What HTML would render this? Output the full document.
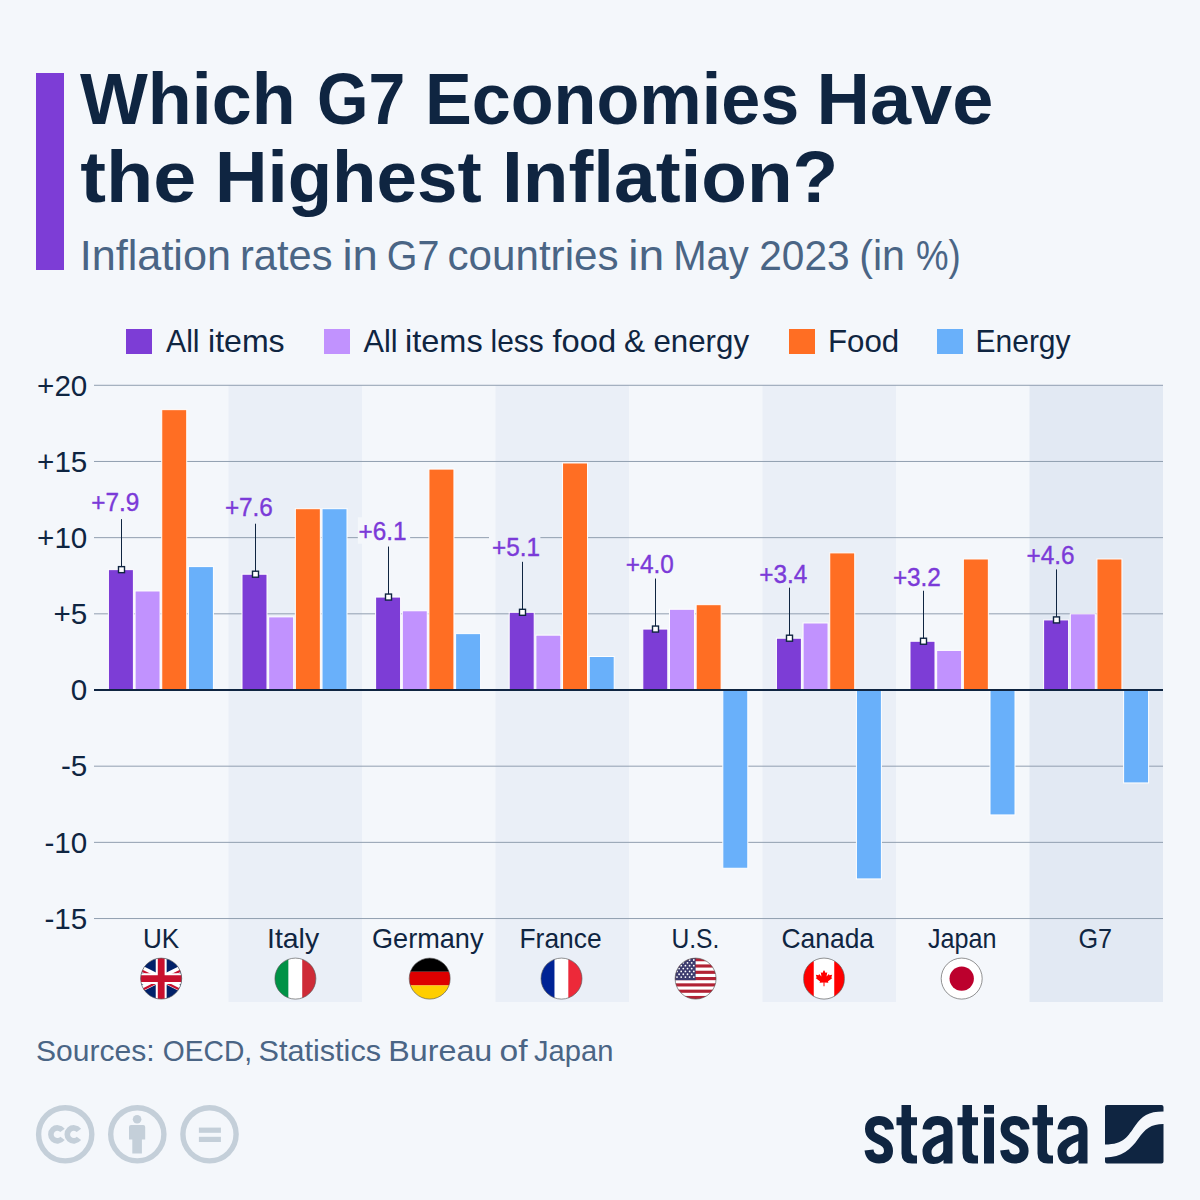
<!DOCTYPE html>
<html><head><meta charset="utf-8"><title>Which G7 Economies Have the Highest Inflation?</title>
<style>
html,body{margin:0;padding:0;background:#f4f7fb;}
body{width:1200px;height:1200px;overflow:hidden;position:relative;}
svg{position:absolute;left:0;top:0;display:block;}
text{font-family:'Liberation Sans', sans-serif;}
</style></head><body>
<svg width="1200" height="1200" viewBox="0 0 1200 1200">
<rect x="0" y="0" width="1200" height="1200" fill="#f4f7fb"/>

<rect x="36" y="73" width="28" height="197" fill="#7d3dd6"/>
<text x="80.00" y="124" font-size="72.5" font-weight="700" fill="#0f2541" textLength="215.59" lengthAdjust="spacingAndGlyphs" >Which</text>
<text x="317.00" y="124" font-size="72.5" font-weight="700" fill="#0f2541" textLength="88.35" lengthAdjust="spacingAndGlyphs" >G7</text>
<text x="425.00" y="124" font-size="72.5" font-weight="700" fill="#0f2541" textLength="374.16" lengthAdjust="spacingAndGlyphs" >Economies</text>
<text x="816.50" y="124" font-size="72.5" font-weight="700" fill="#0f2541" textLength="176.84" lengthAdjust="spacingAndGlyphs" >Have</text>
<text x="80.25" y="202" font-size="72.5" font-weight="700" fill="#0f2541" textLength="116.09" lengthAdjust="spacingAndGlyphs" >the</text>
<text x="215.00" y="202" font-size="72.5" font-weight="700" fill="#0f2541" textLength="266.63" lengthAdjust="spacingAndGlyphs" >Highest</text>
<text x="502.00" y="202" font-size="72.5" font-weight="700" fill="#0f2541" textLength="336.25" lengthAdjust="spacingAndGlyphs" >Inflation?</text>
<text x="79.75" y="269.7" font-size="42" font-weight="400" fill="#4a6585" textLength="151.26" lengthAdjust="spacingAndGlyphs" >Inflation</text>
<text x="240.00" y="269.7" font-size="42" font-weight="400" fill="#4a6585" textLength="92.46" lengthAdjust="spacingAndGlyphs" >rates</text>
<text x="342.50" y="269.7" font-size="42" font-weight="400" fill="#4a6585" textLength="35.42" lengthAdjust="spacingAndGlyphs" >in</text>
<text x="386.75" y="269.7" font-size="42" font-weight="400" fill="#4a6585" textLength="52.61" lengthAdjust="spacingAndGlyphs" >G7</text>
<text x="447.50" y="269.7" font-size="42" font-weight="400" fill="#4a6585" textLength="171.05" lengthAdjust="spacingAndGlyphs" >countries</text>
<text x="628.25" y="269.7" font-size="42" font-weight="400" fill="#4a6585" textLength="36.00" lengthAdjust="spacingAndGlyphs" >in</text>
<text x="673.25" y="269.7" font-size="42" font-weight="400" fill="#4a6585" textLength="75.61" lengthAdjust="spacingAndGlyphs" >May</text>
<text x="759.25" y="269.7" font-size="42" font-weight="400" fill="#4a6585" textLength="90.42" lengthAdjust="spacingAndGlyphs" >2023</text>
<text x="859.25" y="269.7" font-size="42" font-weight="400" fill="#4a6585" textLength="45.71" lengthAdjust="spacingAndGlyphs" >(in</text>
<text x="916.00" y="269.7" font-size="42" font-weight="400" fill="#4a6585" textLength="44.79" lengthAdjust="spacingAndGlyphs" >%)</text>
<rect x="126" y="329" width="26" height="25" fill="#7d3dd6"/>
<rect x="324" y="329" width="26" height="25" fill="#c192fe"/>
<rect x="789" y="329" width="26" height="25" fill="#ff6e23"/>
<rect x="937" y="329" width="26" height="25" fill="#69b0fa"/>
<text x="166.00" y="352" font-size="30.5" font-weight="400" fill="#0f2541" textLength="33.60" lengthAdjust="spacingAndGlyphs" >All</text>
<text x="208.00" y="352" font-size="30.5" font-weight="400" fill="#0f2541" textLength="76.66" lengthAdjust="spacingAndGlyphs" >items</text>
<text x="363.50" y="352" font-size="30.5" font-weight="400" fill="#0f2541" textLength="34.15" lengthAdjust="spacingAndGlyphs" >All</text>
<text x="405.00" y="352" font-size="30.5" font-weight="400" fill="#0f2541" textLength="77.65" lengthAdjust="spacingAndGlyphs" >items</text>
<text x="490.50" y="352" font-size="30.5" font-weight="400" fill="#0f2541" textLength="53.17" lengthAdjust="spacingAndGlyphs" >less</text>
<text x="552.50" y="352" font-size="30.5" font-weight="400" fill="#0f2541" textLength="63.59" lengthAdjust="spacingAndGlyphs" >food</text>
<text x="624.00" y="352" font-size="30.5" font-weight="400" fill="#0f2541" textLength="21.05" lengthAdjust="spacingAndGlyphs" >&amp;</text>
<text x="653.50" y="352" font-size="30.5" font-weight="400" fill="#0f2541" textLength="95.53" lengthAdjust="spacingAndGlyphs" >energy</text>
<text x="828.00" y="352" font-size="30.5" font-weight="400" fill="#0f2541" textLength="71.25" lengthAdjust="spacingAndGlyphs" >Food</text>
<text x="975.50" y="352" font-size="30.5" font-weight="400" fill="#0f2541" textLength="95.05" lengthAdjust="spacingAndGlyphs" >Energy</text>
<rect x="228.50" y="385" width="133.50" height="617" fill="#eaeff7"/>
<rect x="495.50" y="385" width="133.50" height="617" fill="#eaeff7"/>
<rect x="762.50" y="385" width="133.50" height="617" fill="#eaeff7"/>
<rect x="1029.50" y="385" width="133.50" height="617" fill="#e2e9f3"/>
<rect x="94" y="384.78" width="1069" height="1" fill="#919fb0"/>
<rect x="94" y="460.96" width="1069" height="1" fill="#919fb0"/>
<rect x="94" y="537.14" width="263.90" height="1" fill="#919fb0"/>
<rect x="410.1" y="537.14" width="78.90" height="1" fill="#919fb0"/>
<rect x="540.4" y="537.14" width="622.60" height="1" fill="#919fb0"/>
<rect x="94" y="613.32" width="1069" height="1" fill="#919fb0"/>
<rect x="94" y="765.68" width="1069" height="1" fill="#919fb0"/>
<rect x="94" y="841.86" width="1069" height="1" fill="#919fb0"/>
<rect x="94" y="918.04" width="1069" height="1" fill="#919fb0"/>
<text x="87.3" y="395.58" font-size="29.6" fill="#0f2541" text-anchor="end">+20</text>
<text x="87.3" y="471.76" font-size="29.6" fill="#0f2541" text-anchor="end">+15</text>
<text x="87.3" y="547.94" font-size="29.6" fill="#0f2541" text-anchor="end">+10</text>
<text x="87.3" y="624.12" font-size="29.6" fill="#0f2541" text-anchor="end">+5</text>
<text x="87.3" y="700.30" font-size="29.6" fill="#0f2541" text-anchor="end">0</text>
<text x="87.3" y="776.48" font-size="29.6" fill="#0f2541" text-anchor="end">-5</text>
<text x="87.3" y="852.66" font-size="29.6" fill="#0f2541" text-anchor="end">-10</text>
<text x="87.3" y="928.84" font-size="29.6" fill="#0f2541" text-anchor="end">-15</text>
<rect x="108.40" y="569.64" width="25" height="120.36" fill="#7d3dd6" stroke="#ffffff" stroke-width="1"/>
<rect x="135.07" y="590.97" width="25" height="99.03" fill="#c192fe" stroke="#ffffff" stroke-width="1"/>
<rect x="161.74" y="409.66" width="25" height="280.34" fill="#ff6e23" stroke="#ffffff" stroke-width="1"/>
<rect x="188.41" y="566.59" width="25" height="123.41" fill="#69b0fa" stroke="#ffffff" stroke-width="1"/>
<rect x="242.00" y="574.21" width="25" height="115.79" fill="#7d3dd6" stroke="#ffffff" stroke-width="1"/>
<rect x="268.67" y="616.87" width="25" height="73.13" fill="#c192fe" stroke="#ffffff" stroke-width="1"/>
<rect x="295.34" y="508.69" width="25" height="181.31" fill="#ff6e23" stroke="#ffffff" stroke-width="1"/>
<rect x="322.01" y="508.69" width="25" height="181.31" fill="#69b0fa" stroke="#ffffff" stroke-width="1"/>
<rect x="375.60" y="597.06" width="25" height="92.94" fill="#7d3dd6" stroke="#ffffff" stroke-width="1"/>
<rect x="402.27" y="610.77" width="25" height="79.23" fill="#c192fe" stroke="#ffffff" stroke-width="1"/>
<rect x="428.94" y="469.08" width="25" height="220.92" fill="#ff6e23" stroke="#ffffff" stroke-width="1"/>
<rect x="455.61" y="633.63" width="25" height="56.37" fill="#69b0fa" stroke="#ffffff" stroke-width="1"/>
<rect x="509.20" y="612.30" width="25" height="77.70" fill="#7d3dd6" stroke="#ffffff" stroke-width="1"/>
<rect x="535.87" y="635.15" width="25" height="54.85" fill="#c192fe" stroke="#ffffff" stroke-width="1"/>
<rect x="562.54" y="462.98" width="25" height="227.02" fill="#ff6e23" stroke="#ffffff" stroke-width="1"/>
<rect x="589.21" y="656.48" width="25" height="33.52" fill="#69b0fa" stroke="#ffffff" stroke-width="1"/>
<rect x="642.80" y="629.06" width="25" height="60.94" fill="#7d3dd6" stroke="#ffffff" stroke-width="1"/>
<rect x="669.47" y="609.25" width="25" height="80.75" fill="#c192fe" stroke="#ffffff" stroke-width="1"/>
<rect x="696.14" y="604.68" width="25" height="85.32" fill="#ff6e23" stroke="#ffffff" stroke-width="1"/>
<rect x="722.81" y="690.00" width="25" height="178.26" fill="#69b0fa" stroke="#ffffff" stroke-width="1"/>
<rect x="776.40" y="638.20" width="25" height="51.80" fill="#7d3dd6" stroke="#ffffff" stroke-width="1"/>
<rect x="803.07" y="622.96" width="25" height="67.04" fill="#c192fe" stroke="#ffffff" stroke-width="1"/>
<rect x="829.74" y="552.88" width="25" height="137.12" fill="#ff6e23" stroke="#ffffff" stroke-width="1"/>
<rect x="856.41" y="690.00" width="25" height="188.93" fill="#69b0fa" stroke="#ffffff" stroke-width="1"/>
<rect x="910.00" y="641.24" width="25" height="48.76" fill="#7d3dd6" stroke="#ffffff" stroke-width="1"/>
<rect x="936.67" y="650.39" width="25" height="39.61" fill="#c192fe" stroke="#ffffff" stroke-width="1"/>
<rect x="963.34" y="558.97" width="25" height="131.03" fill="#ff6e23" stroke="#ffffff" stroke-width="1"/>
<rect x="990.01" y="690.00" width="25" height="124.94" fill="#69b0fa" stroke="#ffffff" stroke-width="1"/>
<rect x="1043.60" y="619.91" width="25" height="70.09" fill="#7d3dd6" stroke="#ffffff" stroke-width="1"/>
<rect x="1070.27" y="613.82" width="25" height="76.18" fill="#c192fe" stroke="#ffffff" stroke-width="1"/>
<rect x="1096.94" y="558.97" width="25" height="131.03" fill="#ff6e23" stroke="#ffffff" stroke-width="1"/>
<rect x="1123.61" y="690.00" width="25" height="92.94" fill="#69b0fa" stroke="#ffffff" stroke-width="1"/>
<rect x="94" y="689" width="1069" height="2" fill="#0f2541"/>
<rect x="357.9" y="517.25" width="4.1" height="26.5" fill="#f4f7fb"/>
<text x="115.30" y="511.24" font-size="26" textLength="48" lengthAdjust="spacingAndGlyphs" fill="#7b3ad8" text-anchor="middle" stroke="#7b3ad8" stroke-width="0.4">+7.9</text>
<rect x="121" y="519.14" width="1" height="50.5" fill="#0f2541"/>
<rect x="118.50" y="566.64" width="6" height="6" fill="#ffffff" stroke="#0f2541" stroke-width="1.4"/>
<text x="248.90" y="515.99" font-size="26" textLength="48" lengthAdjust="spacingAndGlyphs" fill="#7b3ad8" text-anchor="middle" stroke="#7b3ad8" stroke-width="0.4">+7.6</text>
<rect x="255" y="523.71" width="1" height="50.5" fill="#0f2541"/>
<rect x="252.50" y="571.21" width="6" height="6" fill="#ffffff" stroke="#0f2541" stroke-width="1.4"/>
<text x="382.50" y="539.78" font-size="26" textLength="48" lengthAdjust="spacingAndGlyphs" fill="#7b3ad8" text-anchor="middle" stroke="#7b3ad8" stroke-width="0.4">+6.1</text>
<rect x="388" y="546.56" width="1" height="50.5" fill="#0f2541"/>
<rect x="385.50" y="594.06" width="6" height="6" fill="#ffffff" stroke="#0f2541" stroke-width="1.4"/>
<text x="516.10" y="555.63" font-size="26" textLength="48" lengthAdjust="spacingAndGlyphs" fill="#7b3ad8" text-anchor="middle" stroke="#7b3ad8" stroke-width="0.4">+5.1</text>
<rect x="522" y="561.80" width="1" height="50.5" fill="#0f2541"/>
<rect x="519.50" y="609.30" width="6" height="6" fill="#ffffff" stroke="#0f2541" stroke-width="1.4"/>
<text x="649.70" y="573.08" font-size="26" textLength="48" lengthAdjust="spacingAndGlyphs" fill="#7b3ad8" text-anchor="middle" stroke="#7b3ad8" stroke-width="0.4">+4.0</text>
<rect x="655" y="578.56" width="1" height="50.5" fill="#0f2541"/>
<rect x="652.50" y="626.06" width="6" height="6" fill="#ffffff" stroke="#0f2541" stroke-width="1.4"/>
<text x="783.30" y="582.59" font-size="26" textLength="48" lengthAdjust="spacingAndGlyphs" fill="#7b3ad8" text-anchor="middle" stroke="#7b3ad8" stroke-width="0.4">+3.4</text>
<rect x="789" y="587.70" width="1" height="50.5" fill="#0f2541"/>
<rect x="786.50" y="635.20" width="6" height="6" fill="#ffffff" stroke="#0f2541" stroke-width="1.4"/>
<text x="916.90" y="585.76" font-size="26" textLength="48" lengthAdjust="spacingAndGlyphs" fill="#7b3ad8" text-anchor="middle" stroke="#7b3ad8" stroke-width="0.4">+3.2</text>
<rect x="923" y="590.74" width="1" height="50.5" fill="#0f2541"/>
<rect x="920.50" y="638.24" width="6" height="6" fill="#ffffff" stroke="#0f2541" stroke-width="1.4"/>
<text x="1050.50" y="563.56" font-size="26" textLength="48" lengthAdjust="spacingAndGlyphs" fill="#7b3ad8" text-anchor="middle" stroke="#7b3ad8" stroke-width="0.4">+4.6</text>
<rect x="1056" y="569.41" width="1" height="50.5" fill="#0f2541"/>
<rect x="1053.50" y="616.91" width="6" height="6" fill="#ffffff" stroke="#0f2541" stroke-width="1.4"/>
<text x="143.00" y="948" font-size="27.2" font-weight="400" fill="#0f2541" textLength="36.21" lengthAdjust="spacingAndGlyphs" >UK</text>
<text x="267.00" y="948" font-size="27.2" font-weight="400" fill="#0f2541" textLength="52.10" lengthAdjust="spacingAndGlyphs" >Italy</text>
<text x="372.00" y="948" font-size="27.2" font-weight="400" fill="#0f2541" textLength="111.52" lengthAdjust="spacingAndGlyphs" >Germany</text>
<text x="519.50" y="948" font-size="27.2" font-weight="400" fill="#0f2541" textLength="82.12" lengthAdjust="spacingAndGlyphs" >France</text>
<text x="671.50" y="948" font-size="27.2" font-weight="400" fill="#0f2541" textLength="47.87" lengthAdjust="spacingAndGlyphs" >U.S.</text>
<text x="781.50" y="948" font-size="27.2" font-weight="400" fill="#0f2541" textLength="92.52" lengthAdjust="spacingAndGlyphs" >Canada</text>
<text x="928.00" y="948" font-size="27.2" font-weight="400" fill="#0f2541" textLength="68.53" lengthAdjust="spacingAndGlyphs" >Japan</text>
<text x="1078.50" y="948" font-size="27.2" font-weight="400" fill="#0f2541" textLength="33.64" lengthAdjust="spacingAndGlyphs" >G7</text>
<defs>
<clipPath id="fc0"><circle cx="161.2" cy="978.6" r="20.5"/></clipPath>
<clipPath id="fc1"><circle cx="295.4" cy="978.6" r="20.5"/></clipPath>
<clipPath id="fc2"><circle cx="429.7" cy="978.6" r="20.5"/></clipPath>
<clipPath id="fc3"><circle cx="561.5" cy="978.6" r="20.5"/></clipPath>
<clipPath id="fc4"><circle cx="695.6" cy="978.6" r="20.5"/></clipPath>
<clipPath id="fc5"><circle cx="824.0" cy="978.6" r="20.5"/></clipPath>
<clipPath id="fc6"><circle cx="961.7" cy="978.6" r="20.5"/></clipPath>
</defs>
<g clip-path="url(#fc0)"><g transform="translate(120.20,958.10) scale(1.3667)"><rect width="60" height="30" fill="#012169"/><path d="M0,0 L60,30 M60,0 L0,30" stroke="#fff" stroke-width="4.6"/><path d="M0,0 L30,15 M60,30 L30,15" stroke="#C8102E" stroke-width="1.6" transform="translate(-0.7,0.9)"/><path d="M60,0 L30,15 M0,30 L30,15" stroke="#C8102E" stroke-width="1.6" transform="translate(0.7,0.9)"/><path d="M30,0 v30 M0,15 h60" stroke="#fff" stroke-width="8"/><path d="M30,0 v30 M0,15 h60" stroke="#C8102E" stroke-width="5"/></g></g>
<circle cx="161.2" cy="978.6" r="20.5" fill="none" stroke="#555" stroke-width="0.8" stroke-opacity="0.8"/>
<g clip-path="url(#fc1)"><rect x="274.90" y="958.1" width="13.67" height="41" fill="#009246"/><rect x="288.57" y="958.1" width="13.67" height="41" fill="#ffffff"/><rect x="302.23" y="958.1" width="13.67" height="41" fill="#ce2b37"/></g>
<circle cx="295.4" cy="978.6" r="20.5" fill="none" stroke="#555" stroke-width="0.8" stroke-opacity="0.8"/>
<g clip-path="url(#fc2)"><rect x="409.20" y="958.10" width="41" height="13.67" fill="#000000"/><rect x="409.20" y="971.77" width="41" height="13.67" fill="#dd0000"/><rect x="409.20" y="985.43" width="41" height="13.67" fill="#ffce00"/></g>
<circle cx="429.7" cy="978.6" r="20.5" fill="none" stroke="#555" stroke-width="0.8" stroke-opacity="0.8"/>
<g clip-path="url(#fc3)"><rect x="541.00" y="958.1" width="13.67" height="41" fill="#002395"/><rect x="554.67" y="958.1" width="13.67" height="41" fill="#ffffff"/><rect x="568.33" y="958.1" width="13.67" height="41" fill="#ed2939"/></g>
<circle cx="561.5" cy="978.6" r="20.5" fill="none" stroke="#555" stroke-width="0.8" stroke-opacity="0.8"/>
<g clip-path="url(#fc4)"><rect x="675.10" y="958.10" width="41" height="41" fill="#ffffff"/><rect x="675.10" y="958.10" width="41" height="3.15" fill="#b22234"/><rect x="675.10" y="964.41" width="41" height="3.15" fill="#b22234"/><rect x="675.10" y="970.72" width="41" height="3.15" fill="#b22234"/><rect x="675.10" y="977.02" width="41" height="3.15" fill="#b22234"/><rect x="675.10" y="983.33" width="41" height="3.15" fill="#b22234"/><rect x="675.10" y="989.64" width="41" height="3.15" fill="#b22234"/><rect x="675.10" y="995.95" width="41" height="3.15" fill="#b22234"/><rect x="675.10" y="958.10" width="20.5" height="22.08" fill="#3c3b6e"/><circle cx="677.00" cy="960.00" r="0.9" fill="#fff"/><circle cx="681.20" cy="960.00" r="0.9" fill="#fff"/><circle cx="685.40" cy="960.00" r="0.9" fill="#fff"/><circle cx="689.60" cy="960.00" r="0.9" fill="#fff"/><circle cx="693.80" cy="960.00" r="0.9" fill="#fff"/><circle cx="679.10" cy="962.85" r="0.9" fill="#fff"/><circle cx="683.30" cy="962.85" r="0.9" fill="#fff"/><circle cx="687.50" cy="962.85" r="0.9" fill="#fff"/><circle cx="691.70" cy="962.85" r="0.9" fill="#fff"/><circle cx="677.00" cy="965.70" r="0.9" fill="#fff"/><circle cx="681.20" cy="965.70" r="0.9" fill="#fff"/><circle cx="685.40" cy="965.70" r="0.9" fill="#fff"/><circle cx="689.60" cy="965.70" r="0.9" fill="#fff"/><circle cx="693.80" cy="965.70" r="0.9" fill="#fff"/><circle cx="679.10" cy="968.55" r="0.9" fill="#fff"/><circle cx="683.30" cy="968.55" r="0.9" fill="#fff"/><circle cx="687.50" cy="968.55" r="0.9" fill="#fff"/><circle cx="691.70" cy="968.55" r="0.9" fill="#fff"/><circle cx="677.00" cy="971.40" r="0.9" fill="#fff"/><circle cx="681.20" cy="971.40" r="0.9" fill="#fff"/><circle cx="685.40" cy="971.40" r="0.9" fill="#fff"/><circle cx="689.60" cy="971.40" r="0.9" fill="#fff"/><circle cx="693.80" cy="971.40" r="0.9" fill="#fff"/><circle cx="679.10" cy="974.25" r="0.9" fill="#fff"/><circle cx="683.30" cy="974.25" r="0.9" fill="#fff"/><circle cx="687.50" cy="974.25" r="0.9" fill="#fff"/><circle cx="691.70" cy="974.25" r="0.9" fill="#fff"/><circle cx="677.00" cy="977.10" r="0.9" fill="#fff"/><circle cx="681.20" cy="977.10" r="0.9" fill="#fff"/><circle cx="685.40" cy="977.10" r="0.9" fill="#fff"/><circle cx="689.60" cy="977.10" r="0.9" fill="#fff"/><circle cx="693.80" cy="977.10" r="0.9" fill="#fff"/></g>
<circle cx="695.6" cy="978.6" r="20.5" fill="none" stroke="#555" stroke-width="0.8" stroke-opacity="0.8"/>
<g clip-path="url(#fc5)"><rect x="803.50" y="958.10" width="41" height="41" fill="#ffffff"/><rect x="803.50" y="958.10" width="10.25" height="41" fill="#ff0000"/><rect x="834.25" y="958.10" width="10.25" height="41" fill="#ff0000"/><path transform="translate(824.00,978.60) scale(0.85)" fill="#ff0000" d="M0,-10 L2,-6.5 L3.8,-7.4 L3,-2.6 L5.8,-5.4 L6.4,-4 L9.6,-4.6 L8.6,-1.4 L9.8,-0.8 L4.6,3.4 L5.2,5 L0.6,4.6 L0.6,9 L-0.6,9 L-0.6,4.6 L-5.2,5 L-4.6,3.4 L-9.8,-0.8 L-8.6,-1.4 L-9.6,-4.6 L-6.4,-4 L-5.8,-5.4 L-3,-2.6 L-3.8,-7.4 L-2,-6.5 Z"/></g>
<circle cx="824.0" cy="978.6" r="20.5" fill="none" stroke="#555" stroke-width="0.8" stroke-opacity="0.8"/>
<circle cx="961.7" cy="978.6" r="20.5" fill="#ffffff"/><circle cx="961.7" cy="978.6" r="12.2" fill="#bc002d"/>
<circle cx="961.7" cy="978.6" r="20.5" fill="none" stroke="#555" stroke-width="0.8" stroke-opacity="0.8"/>
<text x="36.00" y="1061.25" font-size="29" font-weight="400" fill="#4a6585" textLength="118.60" lengthAdjust="spacingAndGlyphs" >Sources:</text>
<text x="162.75" y="1061.25" font-size="29" font-weight="400" fill="#4a6585" textLength="89.37" lengthAdjust="spacingAndGlyphs" >OECD,</text>
<text x="258.50" y="1061.25" font-size="29" font-weight="400" fill="#4a6585" textLength="122.55" lengthAdjust="spacingAndGlyphs" >Statistics</text>
<text x="388.25" y="1061.25" font-size="29" font-weight="400" fill="#4a6585" textLength="104.01" lengthAdjust="spacingAndGlyphs" >Bureau</text>
<text x="499.50" y="1061.25" font-size="29" font-weight="400" fill="#4a6585" textLength="28.04" lengthAdjust="spacingAndGlyphs" >of</text>
<text x="534.00" y="1061.25" font-size="29" font-weight="400" fill="#4a6585" textLength="79.35" lengthAdjust="spacingAndGlyphs" >Japan</text>
<circle cx="65.2" cy="1134.3" r="26.6" fill="none" stroke="#c4cfd9" stroke-width="5.4"/>
<circle cx="137.3" cy="1134.3" r="26.6" fill="none" stroke="#c4cfd9" stroke-width="5.4"/>
<circle cx="209.5" cy="1134.3" r="26.6" fill="none" stroke="#c4cfd9" stroke-width="5.4"/>
<path d="M62.52,1130.40 A6.5,6.5 0 1 0 62.52,1138.40" fill="none" stroke="#c4cfd9" stroke-width="5.6"/>
<path d="M78.92,1130.40 A6.5,6.5 0 1 0 78.92,1138.40" fill="none" stroke="#c4cfd9" stroke-width="5.6"/>
<circle cx="137.1" cy="1119.3" r="4.3" fill="#c4cfd9"/>
<path d="M129,1127 q0,-2 2,-2 h12.2 q2,0 2,2 v12.5 h-3.3 v14 h-9.6 v-14 h-3.3 z" fill="#c4cfd9"/>
<rect x="198.9" y="1127.6" width="22" height="5.2" fill="#c4cfd9"/>
<rect x="198.9" y="1136.8" width="22" height="5.2" fill="#c4cfd9"/>
<g fill="#0f2541">
<path d="M1107,1105 h54.5 q2,0 2,2 v4.5 h-0 C1148,1111.5 1142,1116 1135,1126 C1128,1136 1124,1144.5 1105,1144.5 v-37.5 q0,-2 2,-2 z"/>
<path d="M1105,1157.5 C1122,1157.5 1131,1149 1138,1139 C1145,1129 1151,1124 1163.5,1124 v37.5 q0,2 -2,2 h-54.5 q-2,0 -2,-2 z"/>
</g>
<path transform="translate(865,1163.5)" fill="none" stroke="#0f2541" stroke-width="9" stroke-linecap="butt" d="M24.5,-34 C24,-40 19.5,-43 14,-43 C8,-43 4.5,-39.5 4.5,-34.5 C4.5,-22 23.5,-26 23.5,-12.5 C23.5,-6.5 19,-4.5 14,-4.5 C8,-4.5 4.8,-7.5 4,-13.5"/>
<path transform="translate(901.5,1163.5)" fill="#0f2541" d="M0,-58.5 h9.5 v12.3 h6 v8 h-6 v25.5 q0,4.7 4,4.7 h2 v8 h-5 q-10.5,0 -10.5,-10 v-28.2 h-5 v-8 h5 z"/>
<g transform="translate(922.5,1163.5)"><path fill="none" stroke="#0f2541" stroke-width="9" d="M4.5,-34 C5,-40 9,-43 15,-43 C22,-43 25.5,-39.5 25.5,-33.5 V0"/><path fill="#0f2541" fill-rule="evenodd" d="M25.5,-31 C12,-27 0,-23 0,-12 C0,-4 4,0.5 11,0.5 C17,0.5 21,-2.5 25.5,-8 Z M21,-22.5 C14,-19.5 9,-16 9,-11.5 C9,-8 10.5,-6.5 13,-6.5 C17,-6.5 21,-10 21,-14.5 Z"/></g>
<path transform="translate(962.5,1163.5)" fill="#0f2541" d="M0,-58.5 h9.5 v12.3 h6 v8 h-6 v25.5 q0,4.7 4,4.7 h2 v8 h-5 q-10.5,0 -10.5,-10 v-28.2 h-5 v-8 h5 z"/>
<rect x="984" y="1105" width="10" height="8.7" fill="#0f2541"/><rect x="984" y="1117.3" width="10" height="46.2" fill="#0f2541"/>
<path transform="translate(1000.6,1163.5)" fill="none" stroke="#0f2541" stroke-width="9" stroke-linecap="butt" d="M24.5,-34 C24,-40 19.5,-43 14,-43 C8,-43 4.5,-39.5 4.5,-34.5 C4.5,-22 23.5,-26 23.5,-12.5 C23.5,-6.5 19,-4.5 14,-4.5 C8,-4.5 4.8,-7.5 4,-13.5"/>
<path transform="translate(1037.5,1163.5)" fill="#0f2541" d="M0,-58.5 h9.5 v12.3 h6 v8 h-6 v25.5 q0,4.7 4,4.7 h2 v8 h-5 q-10.5,0 -10.5,-10 v-28.2 h-5 v-8 h5 z"/>
<g transform="translate(1057.5,1163.5)"><path fill="none" stroke="#0f2541" stroke-width="9" d="M4.5,-34 C5,-40 9,-43 15,-43 C22,-43 25.5,-39.5 25.5,-33.5 V0"/><path fill="#0f2541" fill-rule="evenodd" d="M25.5,-31 C12,-27 0,-23 0,-12 C0,-4 4,0.5 11,0.5 C17,0.5 21,-2.5 25.5,-8 Z M21,-22.5 C14,-19.5 9,-16 9,-11.5 C9,-8 10.5,-6.5 13,-6.5 C17,-6.5 21,-10 21,-14.5 Z"/></g>
</svg></body></html>
